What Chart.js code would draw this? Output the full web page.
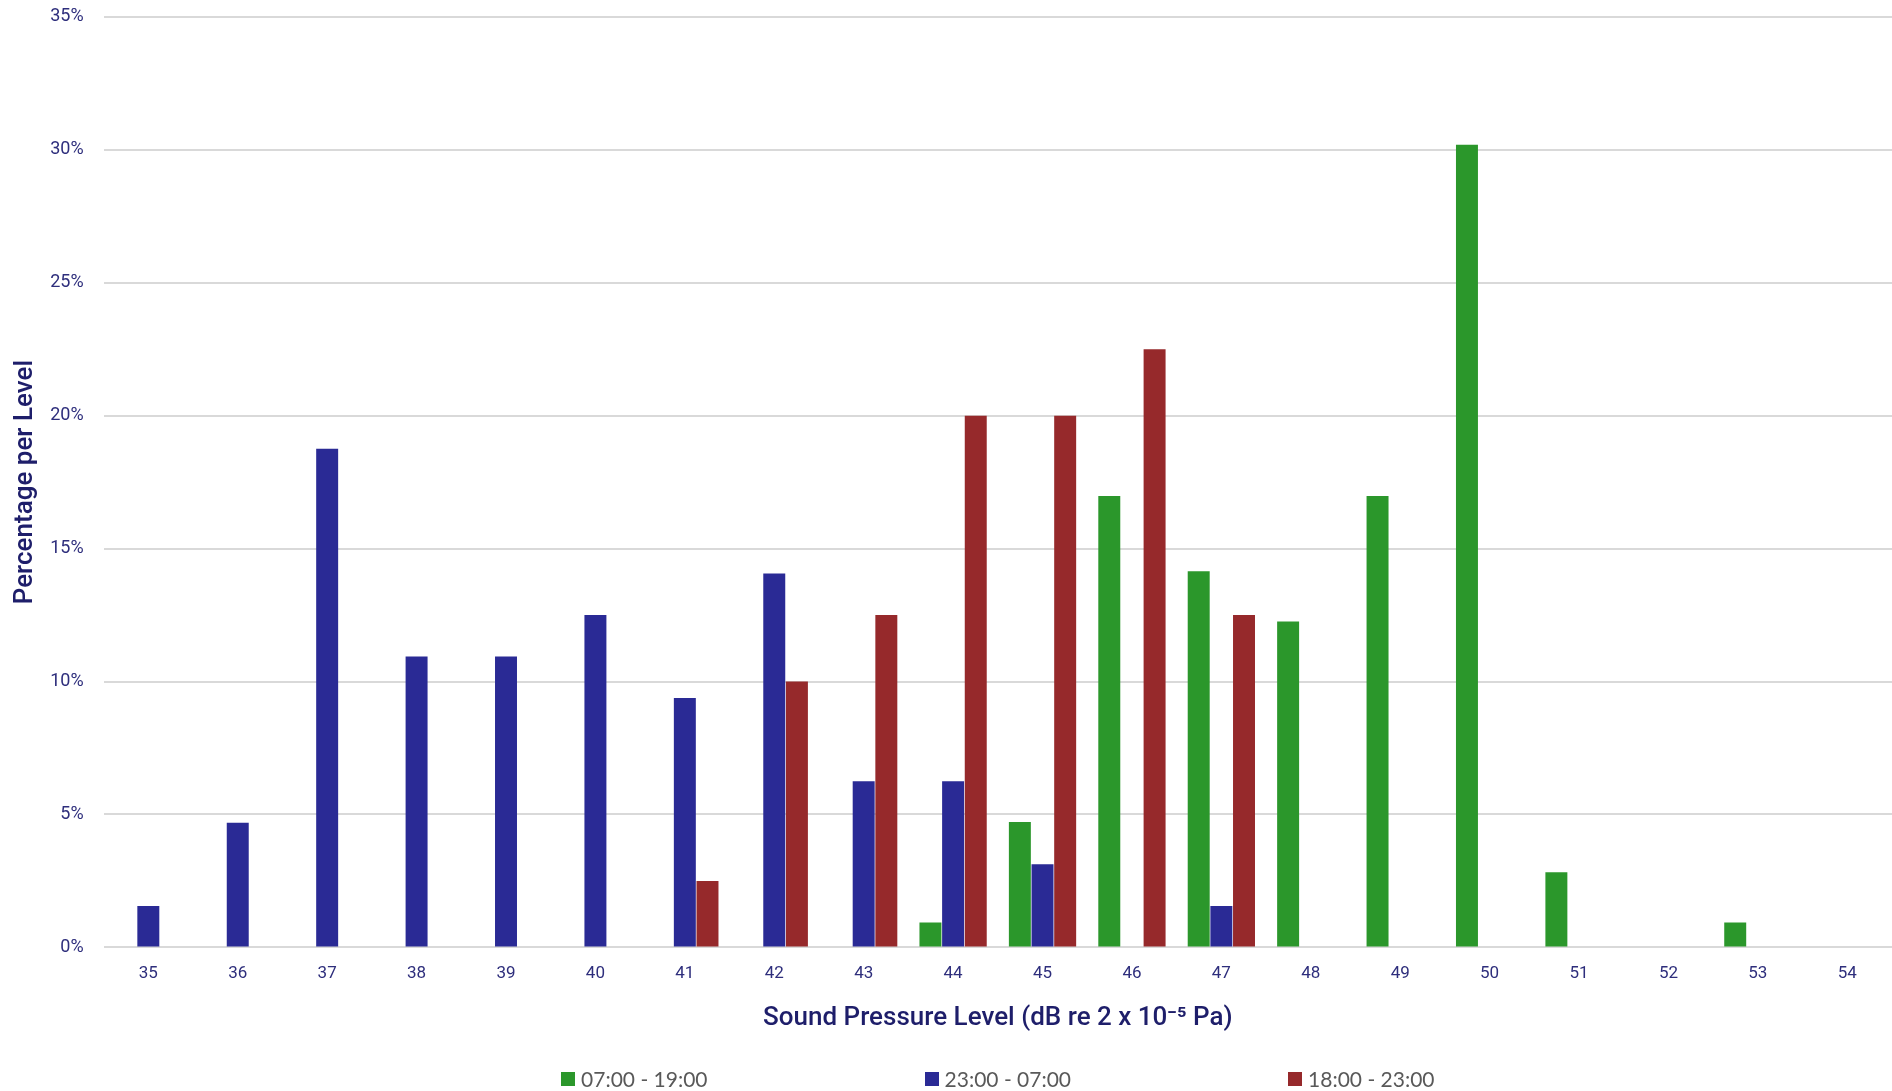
<!DOCTYPE html>
<html>
<head>
<meta charset="utf-8">
<script src="https://cdn.jsdelivr.net/npm/chart.js@4/dist/chart.umd.min.js"></script>
<style>
  html, body { margin: 0; padding: 0; background: #fff; }
  #wrap { position: relative; width: 1892px; height: 1091px; }
  #legend {
    position: absolute;
    top: 1065px;
    display: flex;
    justify-content: center;
    gap: 217px;
    font-family: Lato, sans-serif;
    font-size: 21px;
    color: #595959;
    line-height: 28px;
  }
  #legend .item { display: flex; align-items: center; white-space: nowrap; }
  #legend .box { width: 14px; height: 14px; margin-right: 6px; }
</style>
</head>
<body>
<div id="wrap">
  <canvas id="myChart"></canvas>
  <div id="legend"></div>
</div>
<script>
// sound levels (dB)
const levels = ["35", "36", "37", "38", "39", "40", "41", "42", "43", "44",
  "45", "46", "47", "48", "49", "50", "51", "52", "53", "54"];

// percentage per level for each period
const day = [0, 0, 0, 0, 0, 0, 0, 0, 0, 0.94,
  4.72, 16.98, 14.15, 12.26, 16.98, 30.19, 2.83, 0, 0.94, 0];
const night = [1.56, 4.69, 18.75, 10.94, 10.94, 12.5, 9.38, 14.06, 6.25, 6.25,
  3.13, 0, 1.56, 0, 0, 0, 0, 0, 0, 0];
const evening = [0, 0, 0, 0, 0, 0, 2.5, 10, 12.5, 20,
  20, 22.5, 12.5, 0, 0, 0, 0, 0, 0, 0];

const seriesNames = ["07:00 - 19:00", "23:00 - 07:00", "18:00 - 23:00"];
const yTicks = [0, 5, 10, 15, 20, 25, 30, 35];

const navy = "#2e2e7c";
const titleNavy = "#1e1e6a";

const ctx = document.getElementById("myChart").getContext("2d");
const chart = new Chart(ctx, {
  type: "bar",
  data: {
    labels: levels,
    datasets: [
      { label: seriesNames[0], data: day, backgroundColor: "#2b972b" },
      { label: seriesNames[1], data: night, backgroundColor: "#2a2a95" },
      { label: seriesNames[2], data: evening, backgroundColor: "#96292b" },
    ],
  },
  options: {
    responsive: true,
    maintainAspectRatio: false,
    animation: false,
    layout: { padding: { top: 0, right: 0, left: 10, bottom: 57 } },
    datasets: {
      bar: { categoryPercentage: 0.76, barPercentage: 0.97 },
    },
    scales: {
      x: {
        grid: { display: false, drawTicks: false },
        border: { display: false },
        ticks: {
          color: navy,
          padding: 16,
          font: { family: "Roboto", size: 17 },
        },
        title: {
          display: true,
          text: "Sound Pressure Level (dB re 2 x 10\u207B\u2075 Pa)",
          color: titleNavy,
          font: { family: "Roboto", size: 26, weight: "500" },
          padding: { top: 3, bottom: 0 },
        },
      },
      y: {
        min: 0,
        max: 35,
        afterBuildTicks: (axis) => {
          axis.ticks = yTicks.map((v) => ({ value: v }));
        },
        // invisible tick marks keep the labels 20px off the plot
        grid: {
          color: "#d9d9d9",
          lineWidth: 2,
          drawTicks: true,
          tickLength: 14,
          tickColor: "rgba(0,0,0,0)",
        },
        border: { display: false },
        ticks: {
          color: navy,
          padding: 6,
          font: { family: "Roboto", size: 18 },
          callback: (v) => v + "%",
        },
        title: {
          display: true,
          text: "Percentage per Level",
          color: titleNavy,
          font: { family: "Roboto", size: 26, weight: "500" },
          padding: { top: 0, bottom: 3 },
        },
      },
    },
    plugins: {
      legend: { display: false },
      tooltip: { enabled: false },
    },
  },
});

// legend under the chart, built from the datasets
const legendEl = document.getElementById("legend");
legendEl.style.left = chart.chartArea.left + "px";
legendEl.style.width = chart.chartArea.width + "px";
chart.data.datasets.forEach((ds) => {
  const item = document.createElement("div");
  item.className = "item";
  const box = document.createElement("span");
  box.className = "box";
  box.style.background = ds.backgroundColor;
  const txt = document.createElement("span");
  txt.textContent = ds.label;
  item.appendChild(box);
  item.appendChild(txt);
  legendEl.appendChild(item);
});
</script>
</body>
</html>
